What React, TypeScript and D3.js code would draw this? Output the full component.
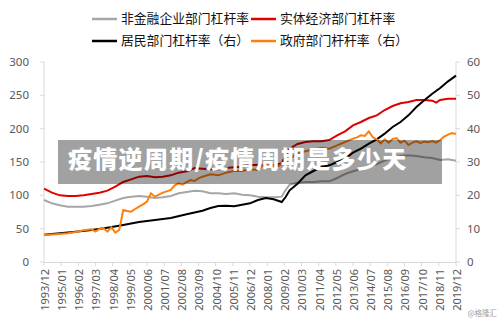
import React from "react";
import * as d3 from "d3";

const xTickLabels = [
  "1993/12","1995/01","1996/02","1997/03","1998/04","1999/05","2000/06","2001/07","2002/08",
  "2003/09","2004/10","2005/11","2006/12","2008/01","2009/02","2010/03","2011/04","2012/05",
  "2013/06","2014/07","2015/08","2016/09","2017/10","2018/11","2019/12",
];
const leftTicks = [0, 50, 100, 150, 200, 250, 300];
const rightTicks = [0, 10, 20, 30, 40, 50, 60];

// 非金融企业部门杠杆率 (left)
const corporate: [string, number][] = [
  ["1993/12",93],["1994/06",88],["1994/12",85],["1995/06",83],["1995/12",83],["1996/06",83],
  ["1996/12",84],["1997/06",86],["1997/12",88],["1998/06",92],["1998/12",96],["1999/06",98],
  ["1999/12",99],["2000/06",98],["2000/12",96],["2001/06",97],["2001/12",99],["2002/06",103],
  ["2002/12",105],["2003/06",107],["2003/12",106],["2004/06",103],["2004/12",103],["2005/06",102],
  ["2005/12",103],["2006/06",101],["2006/12",100],["2007/06",98],["2007/12",97],["2008/06",97],
  ["2008/12",98],["2009/03",108],["2009/06",116],["2009/12",119],["2010/06",120],["2010/12",120],
  ["2011/06",121],["2011/12",121],["2012/06",126],["2012/12",132],["2013/06",136],["2013/12",139],
  ["2014/06",143],["2014/12",147],["2015/06",152],["2015/12",156],["2016/06",159],["2016/12",160],
  ["2017/06",159],["2017/12",157],["2018/06",156],["2018/12",153],["2019/06",154],["2019/12",152],
];

// 实体经济部门杠杆率 (left)
const realEconomy: [string, number][] = [
  ["1993/12",110],["1994/06",104],["1994/12",100],["1995/06",99],["1995/12",99],["1996/06",100],
  ["1996/12",102],["1997/06",104],["1997/12",107],["1998/06",113],["1998/12",120],["1999/06",124],
  ["1999/12",128],["2000/06",129],["2000/12",127],["2001/06",128],["2001/12",130],["2002/06",134],
  ["2002/12",136],["2003/06",141],["2003/12",140],["2004/06",139],["2004/12",139],["2005/06",141],
  ["2005/12",142],["2006/06",143],["2006/12",145],["2007/06",146],["2007/12",144],["2008/06",145],
  ["2008/12",148],["2009/03",160],["2009/06",170],["2009/12",177],["2010/06",180],["2010/12",181],
  ["2011/06",181],["2011/12",183],["2012/06",190],["2012/12",196],["2013/06",205],["2013/12",210],
  ["2014/06",216],["2014/12",220],["2015/06",228],["2015/12",234],["2016/06",238],["2016/12",240],
  ["2017/06",243],["2017/12",243],["2018/06",242],["2018/09",239],["2018/12",243],["2019/06",245],
  ["2019/12",245],
];

// 居民部门杠杆率 (right)
const household: [string, number][] = [
  ["1993/12",8.2],["1994/12",8.6],["1995/12",9.1],["1996/12",9.6],["1997/12",10.3],["1998/12",11.1],
  ["1999/12",12.0],["2000/12",12.6],["2001/12",13.2],["2002/12",14.3],["2003/12",15.4],["2004/06",16.2],
  ["2004/12",16.8],["2005/06",16.9],["2005/12",16.7],["2006/06",17.2],["2006/12",17.6],["2007/06",18.6],
  ["2007/12",19.2],["2008/06",18.8],["2008/12",18.0],["2009/03",19.5],["2009/06",21.5],["2009/12",23.5],
  ["2010/06",26.0],["2010/12",27.3],["2011/06",28.5],["2011/12",29.0],["2012/06",30.0],["2012/12",31.0],
  ["2013/06",32.8],["2013/12",34.0],["2014/06",35.5],["2014/12",36.8],["2015/06",38.5],["2015/12",40.5],
  ["2016/06",42.0],["2016/12",44.0],["2017/06",46.5],["2017/12",48.5],["2018/06",50.5],["2018/12",52.2],
  ["2019/06",54.2],["2019/12",55.9],
];

// 政府部门杆杆率 (right)
const government: [string, number][] = [
  ["1993/12",8.1],["1994/12",8.4],["1995/06",8.6],["1995/12",9.0],["1996/06",9.5],["1996/12",9.8],
  ["1997/03",9.1],["1997/06",9.9],["1997/09",10.2],["1997/12",9.1],["1998/03",10.4],["1998/06",8.8],
  ["1998/09",9.6],["1998/12",15.6],["1999/03",15.3],["1999/06",15.1],["1999/09",15.9],["1999/12",16.6],
  ["2000/03",17.3],["2000/06",18.1],["2000/09",20.6],["2000/12",19.6],["2001/03",20.2],["2001/06",20.8],
  ["2001/09",21.2],["2001/12",21.6],["2002/03",23.0],["2002/06",23.6],["2002/09",23.2],["2002/12",24.0],
  ["2003/03",24.6],["2003/06",24.3],["2003/09",25.1],["2003/12",25.6],["2004/06",26.3],["2004/12",26.0],
  ["2005/06",26.8],["2005/12",27.4],["2006/06",27.3],["2006/12",27.8],["2007/06",27.6],["2007/09",28.9],
  ["2007/12",29.2],["2008/03",28.6],["2008/06",29.1],["2008/09",28.7],["2008/12",29.4],["2009/03",29.8],
  ["2009/06",31.0],["2009/12",32.6],["2010/06",33.2],["2010/12",33.8],["2011/06",34.2],["2011/12",34.0],
  ["2012/06",35.0],["2012/12",36.0],["2013/06",37.0],["2013/09",37.4],["2013/12",38.0],["2014/03",37.8],
  ["2014/06",39.2],["2014/09",37.4],["2014/12",36.8],["2015/03",35.6],["2015/06",36.8],["2015/09",35.8],
  ["2015/12",36.9],["2016/03",37.2],["2016/06",35.8],["2016/09",36.4],["2016/12",35.1],["2017/03",35.8],
  ["2017/06",36.2],["2017/09",35.7],["2017/12",36.1],["2018/03",35.9],["2018/06",36.3],["2018/09",35.8],
  ["2018/12",36.6],["2019/03",37.6],["2019/06",38.2],["2019/09",38.7],["2019/12",38.4],
];

const legendItems = [
  { label: "非金融企业部门杠杆率", color: "#a6a6a6" },
  { label: "实体经济部门杠杆率", color: "#e00000" },
  { label: "居民部门杠杆率（右）", color: "#000000" },
  { label: "政府部门杆杆率（右）", color: "#ff7f0e" },
];

const bannerText = "疫情逆周期/疫情周期是多少天";
const watermark = "@格隆汇";

const toMonth = (s: string) => {
  const [y, m] = s.split("/").map(Number);
  return y * 12 + (m - 1);
};

export default function App() {
  const W = 500, H = 324;
  const x0 = 44, x1 = 456, yTop = 62, yBot = 262;
  const x = d3.scaleLinear()
    .domain([toMonth("1993/12"), toMonth("2019/12")])
    .range([x0, x1]);
  const yL = d3.scaleLinear().domain([0, 300]).range([yBot, yTop]);
  const yR = d3.scaleLinear().domain([0, 60]).range([yBot, yTop]);

  const lineL = d3.line<[string, number]>().x(d => x(toMonth(d[0]))).y(d => yL(d[1]));
  const lineR = d3.line<[string, number]>().x(d => x(toMonth(d[0]))).y(d => yR(d[1]));

  const axisColor = "#d9d9d9";
  const tickText = "#595959";
  const font = "'Noto Sans', 'Open Sans', sans-serif";
  const cjk = "'Noto Sans CJK SC', sans-serif";

  return (
    <svg width={W} height={H} style={{ position: "absolute", left: 0, top: 0, background: "#fff" }}>
      <rect x={0} y={0} width={W} height={H} fill="#fff" />
      {/* legend */}
      {legendItems.map((it, i) => {
        const col = i % 2, row = Math.floor(i / 2);
        const lx = col === 0 ? 92 : 251;
        const ly = row === 0 ? 19 : 41;
        return (
          <g key={i}>
            <line x1={lx} x2={lx + 25} y1={ly} y2={ly} stroke={it.color} strokeWidth={2.5} />
            <text x={lx + 29} y={ly} dy="0.35em" fontSize={12.8} fontFamily={cjk} fill="#111">{it.label}</text>
          </g>
        );
      })}
      {/* axes */}
      <line x1={x0} x2={x0} y1={yTop} y2={yBot} stroke={axisColor} />
      <line x1={x1} x2={x1} y1={yTop} y2={yBot} stroke={axisColor} />
      <line x1={x0} x2={x1} y1={yBot + 0.5} y2={yBot + 0.5} stroke={axisColor} />
      {leftTicks.map(t => (
        <g key={"l" + t}>
          <line x1={x0 - 4} x2={x0} y1={yL(t)} y2={yL(t)} stroke={axisColor} />
          <text x={29} y={yL(t)} dy="0.35em" textAnchor="end" fontSize={11.5} fontFamily={font} fill={tickText}>{t}</text>
        </g>
      ))}
      {rightTicks.map(t => (
        <g key={"r" + t}>
          <line x1={x1} x2={x1 + 4} y1={yR(t)} y2={yR(t)} stroke={axisColor} />
          <text x={467} y={yR(t)} dy="0.35em" textAnchor="start" fontSize={11.5} fontFamily={font} fill={tickText}>{t}</text>
        </g>
      ))}
      {xTickLabels.map(l => {
        const px = x(toMonth(l));
        return (
          <g key={l}>
            <line x1={px} x2={px} y1={yBot} y2={yBot + 4} stroke={axisColor} />
            <text transform={`translate(${px + 1},${yBot + 7}) rotate(-90)`} textAnchor="end" dy="0.35em"
              fontSize={11} fontFamily={font} fill={tickText}>{l}</text>
          </g>
        );
      })}
      {/* series */}
      <path d={lineL(corporate) || ""} fill="none" stroke="#a6a6a6" strokeWidth={2} />
      <path d={lineL(realEconomy) || ""} fill="none" stroke="#e00000" strokeWidth={2} />
      <path d={lineR(household) || ""} fill="none" stroke="#000" strokeWidth={2} />
      <path d={lineR(government) || ""} fill="none" stroke="#ff7f0e" strokeWidth={2} />
      {/* banner */}
      <rect x={58} y={140} width={384} height={44} fill="#000" fillOpacity={0.37} />
      <text x={68} y={160} dy="0.35em" fontSize={24} fontWeight={900} letterSpacing={1.3}
        fontFamily={cjk} fill="#fff">{bannerText}</text>
      <text x={497} y={316} textAnchor="end" fontSize={7.5} fontFamily={cjk} fill="#a0a0a0">{watermark}</text>
    </svg>
  );
}
